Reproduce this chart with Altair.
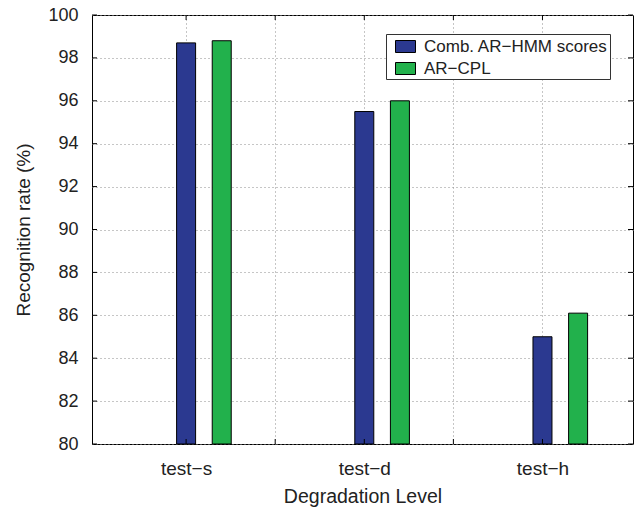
import altair as alt
import pandas as pd

categories = ["test−s", "test−d", "test−h"]
series = ["Comb. AR−HMM scores", "AR−CPL"]
hmm_scores = [98.7, 95.5, 85.0]
cpl_scores = [98.8, 96.0, 86.1]
series_shift = [0.0, 0.2]
colors = ["#2b3990", "#22b14c"]
y_ticks = [80, 82, 84, 86, 88, 90, 92, 94, 96, 98, 100]
x_ticks = [1, 1.5, 2, 2.5, 3]
y_base = 80

rows = []
for i, cat in enumerate(categories):
    for name, vals, shift in zip(series, [hmm_scores, cpl_scores], series_shift):
        rows.append({"category": cat, "series": name, "value": vals[i],
                     "pos": i + 1 + shift, "base": y_base})
df = pd.DataFrame(rows)

W, H = 541, 429
FONT = "Liberation Sans"
TXT = "#222222"

x_scale = alt.Scale(domain=[0.5, 3.48], nice=False, zero=False)
y_scale = alt.Scale(domain=[80, 100], nice=False, zero=False)

label_expr = " : ".join(f"datum.value == {i + 1} ? '{c}'" for i, c in enumerate(categories)) + " : ''"

grid_kw = dict(grid=True, gridDash=[1, 3], gridColor="#8c8c8c", gridWidth=1,
               ticks=False, domain=False)

bars = alt.Chart(df).mark_bar(size=19, stroke="black", strokeWidth=1).encode(
    x=alt.X("pos:Q", scale=x_scale,
            axis=alt.Axis(values=x_ticks, labelExpr=label_expr, title="Degradation Level",
                          labelPadding=15, titlePadding=9, labelFlush=False,
                          labelOverlap=False, labelFontSize=19, titleFontSize=19.5,
                          **grid_kw)),
    y=alt.Y("value:Q", scale=y_scale,
            axis=alt.Axis(values=y_ticks, title="Recognition rate (%)",
                          labelPadding=14, titlePadding=14, labelFontSize=18,
                          titleFontSize=19, **grid_kw)),
    y2="base:Q",
    color=alt.Color("series:N", scale=alt.Scale(domain=series, range=colors),
                    legend=alt.Legend(title=None, orient="none", legendX=294, legendY=19,
                                      direction="vertical", fillColor="white",
                                      strokeColor="#333333", padding=2, rowPadding=3,
                                      symbolType="M-0.3,-0.6H1.7V0.6H-0.3Z", symbolSize=400,
                                      symbolStrokeColor="black", symbolStrokeWidth=1,
                                      symbolOpacity=1, labelFont=FONT, labelFontSize=17,
                                      labelLimit=400, labelColor=TXT, labelOffset=15)),
)

xt = pd.DataFrame({"pos": x_ticks})
yt = pd.DataFrame({"value": y_ticks})

top_ticks = alt.Chart(xt).mark_rule(color="black").encode(
    x=alt.X("pos:Q", scale=x_scale), y=alt.value(0), y2=alt.value(5))
bottom_ticks = alt.Chart(xt).mark_rule(color="black").encode(
    x=alt.X("pos:Q", scale=x_scale), y=alt.value(H - 5), y2=alt.value(H))
left_ticks = alt.Chart(yt).mark_rule(color="black").encode(
    y=alt.Y("value:Q", scale=y_scale), x=alt.value(0), x2=alt.value(5))
right_ticks = alt.Chart(yt).mark_rule(color="black").encode(
    y=alt.Y("value:Q", scale=y_scale), x=alt.value(W - 5), x2=alt.value(W))

chart = alt.layer(bars, top_ticks, bottom_ticks, left_ticks, right_ticks).properties(
    width=W, height=H,
    autosize=alt.AutoSizeParams(type="none"),
    padding={"left": 92, "top": 15, "right": 9, "bottom": 65},
).configure_view(stroke="black", strokeWidth=1).configure_axis(
    labelFont=FONT, titleFont=FONT,
    labelColor=TXT, titleColor=TXT, titleFontWeight="normal",
)

chart.save("out.html", embed_options={"renderer": "svg", "actions": False})
